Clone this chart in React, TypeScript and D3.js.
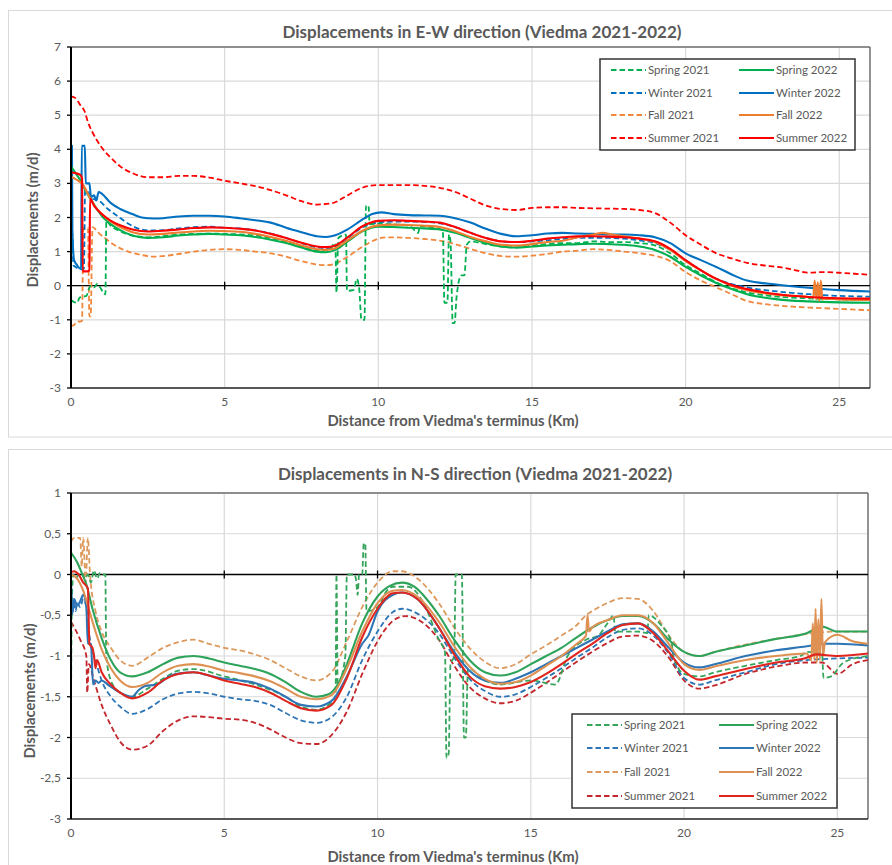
import React, { useEffect, useRef } from 'react';
import * as d3 from 'd3';

type Pt = [number, number];

// ---- E-W displacements (m/d) vs distance (km) ----
const ewSpring21: Pt[] = [[0,-0.42],[0.1,-0.48],[0.2,-0.5],[0.28,-0.35],[0.4,-0.32],[0.5,-0.3],[0.58,-0.1],[0.65,0.0],[0.75,-0.05],[0.85,0.05],[0.95,-0.05],[1.05,-0.2],[1.12,-0.25],[1.15,1.9],[1.3,1.75],[1.6,1.6],[2,1.47],[2.5,1.42],[3,1.45],[3.5,1.5],[4,1.52],[4.5,1.53],[5,1.52],[6,1.47],[7,1.28],[7.5,1.15],[8,1.03],[8.4,1.05],[8.6,1.25],[8.64,-0.2],[8.7,1.4],[8.95,1.5],[8.98,-0.15],[9.2,-0.12],[9.3,0.2],[9.38,-0.1],[9.45,-1.0],[9.55,-1.0],[9.6,2.35],[9.68,2.35],[9.72,1.8],[10,1.82],[10.5,1.8],[11,1.76],[11.3,1.55],[11.35,1.75],[11.8,1.7],[12.1,1.63],[12.15,-0.5],[12.25,-0.5],[12.3,1.5],[12.35,1.3],[12.42,-1.1],[12.48,-1.1],[12.55,-0.3],[12.7,0.3],[12.8,0.3],[12.88,1.2],[13,1.3],[13.5,1.22],[14,1.15],[14.5,1.12],[15,1.18],[15.5,1.22],[16,1.25],[16.5,1.25],[17,1.3],[17.5,1.28],[18,1.28],[18.5,1.25],[19,1.18],[19.5,0.95],[20,0.6],[20.5,0.35],[21,0.1],[22,-0.2],[23,-0.32],[24,-0.37],[25,-0.4],[26,-0.42]];
const ewSpring22: Pt[] = [[0,3.5],[0.15,3.3],[0.3,3.1],[0.5,2.75],[0.7,2.45],[1,2.05],[1.5,1.68],[2,1.47],[2.5,1.4],[3,1.42],[3.5,1.47],[4,1.5],[4.5,1.52],[5,1.5],[5.5,1.48],[6,1.43],[6.5,1.35],[7,1.25],[7.5,1.12],[8,1.0],[8.3,0.98],[8.6,1.05],[9,1.3],[9.5,1.6],[10,1.73],[10.5,1.72],[11,1.7],[11.5,1.68],[12,1.65],[12.5,1.55],[13,1.4],[13.5,1.25],[14,1.15],[14.5,1.12],[15,1.15],[15.5,1.18],[16,1.2],[16.5,1.22],[17,1.23],[17.5,1.22],[18,1.2],[18.5,1.15],[19,1.05],[19.5,0.85],[20,0.55],[20.5,0.3],[21,0.08],[21.5,-0.1],[22,-0.25],[23,-0.4],[24,-0.46],[25,-0.49],[26,-0.5]];
const ewWinter21: Pt[] = [[0,1.6],[0.04,1.55],[0.08,0.6],[0.15,0.55],[0.25,0.5],[0.36,0.48],[0.42,0.5],[0.46,2.8],[0.55,2.75],[0.7,2.55],[0.9,2.5],[1.2,2.25],[1.5,2.05],[2,1.75],[2.5,1.62],[3,1.63],[3.5,1.68],[4,1.72],[4.5,1.73],[5,1.7],[5.5,1.68],[6,1.62],[6.5,1.53],[7,1.4],[7.5,1.25],[8,1.12],[8.3,1.1],[8.6,1.15],[9,1.4],[9.5,1.72],[10,1.85],[10.5,1.88],[11,1.88],[11.5,1.87],[12,1.83],[12.5,1.72],[13,1.55],[13.5,1.4],[14,1.3],[14.5,1.28],[15,1.3],[15.5,1.33],[16,1.37],[16.5,1.4],[17,1.4],[17.5,1.4],[18,1.38],[18.5,1.33],[19,1.25],[19.5,1.05],[20,0.75],[20.5,0.45],[21,0.2],[21.5,0.05],[22,-0.05],[23,-0.17],[24,-0.25],[25,-0.3],[26,-0.32]];
const ewWinter22: Pt[] = [[0,3.5],[0.02,4.1],[0.03,4.1],[0.045,1.6],[0.1,0.75],[0.2,0.6],[0.3,0.5],[0.33,0.55],[0.35,4.1],[0.45,4.1],[0.48,3.0],[0.6,3.0],[0.65,2.6],[0.75,2.65],[0.82,2.5],[0.9,2.75],[1.0,2.7],[1.3,2.42],[1.6,2.25],[2,2.1],[2.3,2.0],[2.7,1.97],[3,1.98],[3.5,2.03],[4,2.05],[4.5,2.05],[5,2.03],[5.5,1.98],[6,1.92],[6.5,1.85],[7,1.7],[7.5,1.57],[8,1.45],[8.3,1.43],[8.6,1.48],[9,1.65],[9.5,1.95],[9.8,2.1],[10.1,2.15],[10.5,2.1],[11,2.07],[11.5,2.06],[12,2.05],[12.5,1.98],[13,1.85],[13.5,1.67],[14,1.52],[14.5,1.45],[15,1.48],[15.5,1.53],[16,1.55],[16.5,1.53],[17,1.52],[17.5,1.5],[18,1.5],[18.5,1.48],[19,1.42],[19.5,1.25],[20,0.95],[20.5,0.75],[21,0.55],[21.5,0.33],[22,0.15],[23,0.03],[24,-0.06],[25,-0.13],[26,-0.17]];
const ewFall21: Pt[] = [[0,-1.18],[0.1,-1.15],[0.2,-1.05],[0.3,-1.05],[0.36,-1.03],[0.4,1.7],[0.55,1.7],[0.6,-0.9],[0.64,-0.9],[0.7,1.72],[0.8,1.65],[0.9,1.55],[1.1,1.4],[1.4,1.2],[1.8,1.02],[2.3,0.9],[2.7,0.85],[3,0.87],[3.5,0.93],[4,1.0],[4.5,1.05],[5,1.07],[5.5,1.05],[6,1.0],[6.5,0.95],[7,0.85],[7.5,0.72],[8,0.62],[8.3,0.6],[8.6,0.65],[9,0.85],[9.5,1.15],[10,1.38],[10.3,1.42],[11,1.4],[11.5,1.37],[12,1.32],[12.5,1.22],[13,1.08],[13.5,0.95],[14,0.87],[14.5,0.85],[15,0.88],[15.5,0.93],[16,1.0],[16.5,1.03],[17,1.07],[17.5,1.05],[18,1.0],[18.5,0.95],[19,0.88],[19.5,0.72],[20,0.4],[20.5,0.15],[21,-0.05],[21.5,-0.25],[22,-0.45],[22.5,-0.53],[23,-0.58],[24,-0.64],[25,-0.68],[26,-0.72]];
const ewFall22: Pt[] = [[0,3.2],[0.2,3.1],[0.4,2.95],[0.6,2.6],[0.8,2.3],[1,2.1],[1.3,1.88],[1.6,1.72],[2,1.57],[2.5,1.5],[3,1.52],[3.5,1.56],[4,1.59],[4.5,1.61],[5,1.6],[5.5,1.58],[6,1.52],[6.5,1.43],[7,1.32],[7.5,1.18],[8,1.07],[8.3,1.05],[8.6,1.1],[9,1.33],[9.5,1.62],[10,1.77],[10.5,1.79],[11,1.78],[11.5,1.76],[12,1.72],[12.5,1.6],[13,1.43],[13.5,1.3],[14,1.2],[14.5,1.18],[15,1.22],[15.5,1.28],[16,1.32],[16.5,1.42],[17,1.5],[17.3,1.55],[17.6,1.5],[18,1.45],[18.5,1.38],[19,1.28],[19.5,1.05],[20,0.72],[20.5,0.45],[21,0.2],[21.5,0.0],[22,-0.13],[23,-0.27],[24,-0.33],[24.15,-0.35],[24.2,0.15],[24.25,-0.4],[24.3,0.1],[24.35,-0.45],[24.4,0.15],[24.45,-0.4],[24.5,-0.38],[25,-0.4],[26,-0.42]];
const ewSummer21: Pt[] = [[0,5.55],[0.15,5.5],[0.3,5.3],[0.45,5.1],[0.55,4.8],[0.7,4.5],[1,4.05],[1.3,3.75],[1.6,3.5],[2,3.3],[2.5,3.18],[3,3.18],[3.5,3.22],[4,3.22],[4.5,3.17],[5,3.08],[5.5,3.0],[6,2.92],[6.5,2.8],[7,2.65],[7.5,2.48],[8,2.38],[8.5,2.42],[9,2.65],[9.5,2.88],[10,2.95],[10.5,2.95],[11,2.95],[11.5,2.93],[12,2.87],[12.5,2.75],[13,2.55],[13.5,2.35],[14,2.25],[14.5,2.22],[15,2.28],[15.5,2.3],[16,2.3],[16.5,2.28],[17,2.27],[17.5,2.26],[18,2.25],[18.5,2.22],[19,2.13],[19.5,1.85],[20,1.48],[20.5,1.2],[21,0.95],[21.5,0.8],[22,0.67],[22.5,0.6],[23,0.55],[23.5,0.47],[24,0.38],[24.5,0.4],[25,0.38],[25.5,0.35],[26,0.32]];
const ewSummer22: Pt[] = [[0,3.32],[0.15,3.3],[0.3,3.25],[0.36,3.15],[0.38,0.42],[0.5,0.42],[0.6,0.45],[0.62,2.55],[0.75,2.35],[1,2.1],[1.3,1.9],[1.6,1.77],[2,1.65],[2.5,1.59],[3,1.61],[3.5,1.65],[4,1.69],[4.5,1.71],[5,1.7],[5.5,1.67],[6,1.62],[6.5,1.52],[7,1.4],[7.5,1.26],[8,1.15],[8.3,1.13],[8.6,1.18],[9,1.42],[9.5,1.75],[10,1.9],[10.5,1.92],[11,1.9],[11.5,1.88],[12,1.85],[12.5,1.72],[13,1.55],[13.5,1.4],[14,1.3],[14.5,1.28],[15,1.32],[15.5,1.38],[16,1.42],[16.5,1.45],[17,1.45],[17.5,1.44],[18,1.42],[18.5,1.38],[19,1.3],[19.5,1.08],[20,0.75],[20.5,0.45],[21,0.2],[21.5,0.02],[22,-0.1],[23,-0.25],[24,-0.33],[25,-0.37],[26,-0.38]];

// ---- N-S displacements (m/d) vs distance (km) ----
const nsSpring21: Pt[] = [[0,-1.6],[0.03,-0.3],[0.08,0.0],[0.15,-0.05],[0.25,0.0],[0.35,0.02],[0.45,-0.05],[0.55,0.0],[0.65,-0.1],[0.75,0.05],[0.85,-0.05],[0.95,0.02],[1.05,0.0],[1.12,0.0],[1.15,-1.0],[1.3,-1.3],[1.6,-1.45],[2,-1.5],[2.5,-1.4],[3,-1.28],[3.5,-1.18],[4,-1.16],[5,-1.25],[6,-1.35],[7,-1.5],[7.5,-1.62],[8,-1.66],[8.4,-1.6],[8.63,-1.5],[8.66,0.0],[8.7,-1.35],[8.95,-1.0],[9.0,0.0],[9.25,0.0],[9.3,-0.07],[9.35,-0.25],[9.4,0.0],[9.5,0.0],[9.55,0.38],[9.6,0.38],[9.64,-0.45],[10,-0.4],[10.3,-0.2],[10.5,-0.15],[11,-0.15],[11.5,-0.35],[12,-0.8],[12.2,-0.95],[12.25,-2.25],[12.32,-2.2],[12.38,-1.1],[12.5,-1.0],[12.55,0.0],[12.75,0.0],[12.82,-2.0],[12.88,-2.0],[12.95,-1.15],[13.5,-1.3],[14,-1.35],[15,-1.3],[15.8,-1.35],[16.2,-1.0],[16.8,-0.8],[17.2,-0.75],[17.5,-0.6],[17.7,-0.5],[17.75,-0.7],[18.5,-0.7],[18.8,-0.72],[18.85,-0.5],[19.2,-0.6],[19.6,-0.85],[19.65,-1.0],[20,-1.22],[20.5,-1.25],[21,-1.2],[22,-1.12],[23,-1.05],[23.8,-1.0],[24.0,-0.95],[24.5,-0.97],[24.55,-1.27],[24.8,-1.25],[25.2,-1.08],[26,-1.0]];
const nsSpring22: Pt[] = [[0,0.27],[0.2,0.15],[0.35,0.02],[0.5,-0.12],[0.7,-0.42],[1,-0.78],[1.3,-1.05],[1.6,-1.2],[2,-1.25],[2.5,-1.2],[3,-1.1],[3.5,-1.02],[4,-1.0],[4.5,-1.03],[5,-1.08],[5.5,-1.12],[6,-1.16],[6.5,-1.22],[7,-1.32],[7.5,-1.44],[8,-1.5],[8.4,-1.47],[8.7,-1.35],[9,-1.1],[9.5,-0.6],[10,-0.27],[10.4,-0.14],[10.8,-0.1],[11.2,-0.15],[11.6,-0.3],[12,-0.5],[12.5,-0.8],[13,-1.05],[13.5,-1.2],[14,-1.24],[14.5,-1.2],[15,-1.1],[15.5,-1.0],[16,-0.9],[16.5,-0.77],[17,-0.65],[17.5,-0.56],[18,-0.51],[18.5,-0.51],[19,-0.6],[19.5,-0.8],[20,-0.95],[20.5,-1.0],[21,-0.95],[22,-0.87],[23,-0.79],[24,-0.72],[24.5,-0.64],[25,-0.7],[26,-0.7]];
const nsWinter21: Pt[] = [[0,-0.12],[0.05,-0.5],[0.1,-0.3],[0.15,-0.45],[0.2,-0.35],[0.3,-0.4],[0.4,-0.3],[0.5,-0.4],[0.6,-0.75],[0.8,-1.05],[1,-1.3],[1.3,-1.5],[1.6,-1.62],[2,-1.71],[2.5,-1.65],[3,-1.53],[3.5,-1.46],[4,-1.44],[4.5,-1.46],[5,-1.5],[5.5,-1.53],[6,-1.55],[6.5,-1.6],[7,-1.7],[7.5,-1.79],[8,-1.82],[8.5,-1.75],[9,-1.5],[9.5,-1.05],[10,-0.7],[10.5,-0.46],[10.8,-0.42],[11.3,-0.48],[12,-0.72],[12.5,-1.02],[13,-1.28],[13.5,-1.43],[14,-1.5],[14.5,-1.47],[15,-1.38],[15.5,-1.27],[16,-1.15],[16.5,-1.02],[17,-0.9],[17.5,-0.77],[18,-0.68],[18.5,-0.66],[19,-0.75],[19.5,-0.97],[20,-1.27],[20.5,-1.35],[21,-1.3],[22,-1.2],[23,-1.1],[24,-1.05],[25,-1.03],[26,-1.02]];
const nsWinter22: Pt[] = [[0,-0.1],[0.05,-0.45],[0.1,-0.3],[0.2,-0.38],[0.3,-0.33],[0.4,-0.25],[0.5,-0.4],[0.55,-0.85],[0.65,-0.85],[0.72,-1.35],[0.8,-1.3],[0.9,-1.33],[1.0,-1.3],[1.2,-1.35],[1.6,-1.45],[2,-1.5],[2.2,-1.42],[2.4,-1.37],[2.8,-1.35],[3.2,-1.25],[3.6,-1.21],[4,-1.2],[4.5,-1.24],[5,-1.28],[5.5,-1.3],[6,-1.33],[6.5,-1.4],[7,-1.5],[7.5,-1.6],[8,-1.62],[8.5,-1.55],[9,-1.25],[9.5,-0.85],[9.7,-0.75],[10,-0.45],[10.5,-0.25],[10.8,-0.22],[11.3,-0.3],[12,-0.65],[12.5,-0.95],[13,-1.18],[13.5,-1.3],[14,-1.33],[14.5,-1.28],[15,-1.2],[15.5,-1.1],[16,-1.0],[16.5,-0.9],[17,-0.8],[17.5,-0.7],[18,-0.61],[18.5,-0.6],[19,-0.7],[19.5,-0.9],[20,-1.08],[20.5,-1.14],[21,-1.1],[22,-1.0],[23,-0.93],[24,-0.88],[24.5,-0.85],[25,-0.85],[26,-0.87]];
const nsFall21: Pt[] = [[0,0.4],[0.1,0.45],[0.3,0.45],[0.35,0.1],[0.4,0.45],[0.48,-0.1],[0.55,0.45],[0.62,0.0],[0.8,-0.45],[1,-0.7],[1.3,-0.9],[1.6,-1.05],[2,-1.12],[2.5,-1.02],[3,-0.9],[3.5,-0.83],[4,-0.8],[4.5,-0.85],[5,-0.9],[5.5,-0.93],[6,-0.98],[6.5,-1.05],[7,-1.15],[7.5,-1.25],[8,-1.3],[8.5,-1.2],[9,-0.82],[9.5,-0.4],[10,-0.1],[10.5,0.04],[10.8,0.04],[11.3,-0.05],[12,-0.35],[12.5,-0.65],[13,-0.9],[13.5,-1.07],[14,-1.15],[14.5,-1.1],[15,-0.98],[15.5,-0.87],[16,-0.75],[16.5,-0.62],[16.8,-0.5],[17,-0.45],[17.5,-0.35],[18,-0.29],[18.5,-0.3],[19,-0.45],[19.5,-0.75],[20,-0.95],[20.5,-1.0],[21,-0.95],[22,-0.86],[23,-0.79],[24,-0.73],[25,-0.7],[26,-0.7]];
const nsFall22: Pt[] = [[0,0.0],[0.2,-0.05],[0.4,-0.2],[0.6,-0.45],[0.8,-0.7],[1,-0.92],[1.3,-1.15],[1.6,-1.3],[2,-1.38],[2.5,-1.33],[3,-1.2],[3.5,-1.12],[4,-1.1],[4.5,-1.13],[5,-1.18],[5.5,-1.21],[6,-1.25],[6.5,-1.31],[7,-1.4],[7.5,-1.5],[8,-1.53],[8.5,-1.48],[9,-1.15],[9.5,-0.7],[10,-0.35],[10.5,-0.2],[10.8,-0.19],[11.3,-0.27],[12,-0.58],[12.5,-0.88],[13,-1.13],[13.5,-1.28],[14,-1.34],[14.5,-1.32],[15,-1.24],[15.5,-1.12],[16,-1.0],[16.5,-0.85],[16.8,-0.75],[16.85,-0.5],[16.9,-0.7],[17,-0.65],[17.5,-0.56],[18,-0.5],[18.5,-0.5],[19,-0.6],[19.5,-0.85],[20,-1.1],[20.5,-1.17],[21,-1.13],[22,-1.05],[23,-1.0],[24,-0.97],[24.15,-1.05],[24.2,-0.6],[24.25,-1.05],[24.29,-0.42],[24.33,-1.08],[24.38,-0.55],[24.43,-1.05],[24.48,-0.3],[24.53,-1.0],[24.6,-0.83],[25,-0.74],[25.5,-0.82],[26,-0.85]];
const nsSummer21: Pt[] = [[0,-0.58],[0.3,-0.8],[0.5,-1.0],[0.53,-1.45],[0.58,-1.1],[0.75,-1.3],[1,-1.6],[1.3,-1.85],[1.6,-2.05],[2,-2.15],[2.5,-2.1],[3,-1.92],[3.5,-1.79],[4,-1.74],[4.5,-1.75],[5,-1.77],[5.5,-1.78],[6,-1.82],[6.5,-1.9],[7,-2.0],[7.5,-2.07],[8,-2.08],[8.5,-1.97],[9,-1.68],[9.5,-1.22],[10,-0.82],[10.5,-0.57],[10.9,-0.51],[11.3,-0.55],[12,-0.8],[12.5,-1.12],[13,-1.38],[13.5,-1.52],[14,-1.58],[14.5,-1.55],[15,-1.45],[15.5,-1.33],[16,-1.2],[16.5,-1.07],[17,-0.95],[17.5,-0.84],[18,-0.76],[18.5,-0.75],[19,-0.82],[19.5,-1.02],[20,-1.3],[20.5,-1.4],[21,-1.36],[22,-1.22],[23,-1.13],[24,-1.08],[24.5,-1.08],[25,-1.22],[25.5,-1.1],[26,-1.05]];
const nsSummer22: Pt[] = [[0,0.03],[0.1,0.04],[0.25,0.0],[0.4,-0.1],[0.55,-0.17],[0.6,-0.85],[0.7,-0.9],[0.75,-1.0],[0.8,-1.15],[0.85,-1.05],[1,-1.2],[1.3,-1.35],[1.6,-1.45],[2,-1.52],[2.5,-1.45],[3,-1.3],[3.5,-1.22],[4,-1.2],[4.5,-1.24],[5,-1.3],[5.5,-1.34],[6,-1.38],[6.5,-1.45],[7,-1.55],[7.5,-1.64],[8,-1.67],[8.5,-1.6],[9,-1.27],[9.5,-0.77],[10,-0.42],[10.5,-0.23],[10.8,-0.22],[11.3,-0.3],[12,-0.65],[12.5,-0.98],[13,-1.25],[13.5,-1.37],[14,-1.4],[14.5,-1.38],[15,-1.32],[15.5,-1.22],[16,-1.1],[16.5,-0.97],[17,-0.85],[17.5,-0.72],[18,-0.62],[18.5,-0.6],[19,-0.72],[19.5,-0.95],[20,-1.18],[20.5,-1.29],[21,-1.25],[22,-1.16],[23,-1.08],[24,-1.02],[24.3,-0.98],[25,-1.0],[26,-0.97]];

const seriesNames = ['Spring 2021', 'Spring 2022', 'Winter 2021', 'Winter 2022', 'Fall 2021', 'Fall 2022', 'Summer 2021', 'Summer 2022'];
const xTicks = [0, 5, 10, 15, 20, 25];
const ewYTicks = [-3, -2, -1, 0, 1, 2, 3, 4, 5, 6, 7];
const nsYTicks = [-3, -2.5, -2, -1.5, -1, -0.5, 0, 0.5, 1];

const FONT = "Lato, 'Open Sans', sans-serif";

type Panel = {
  id: string;
  top: number; bottom: number; left: number; right: number;
  yDomain: [number, number];
  yTicks: number[];
  fmt: (v: number) => string;
  title: string; titleX: number; titleY: number;
  frame: [number, number, number, number];
  yLabelX: number; yLabelY: number; xTickY: number; xLabelY: number; xLabelX: number;
  legend: { x: number; y: number; w: number; h: number; rows: number[]; c1: number; c2: number };
  series: { data: Pt[]; color: string; dash: boolean }[];
};

function drawPanel(svg: any, p: Panel) {
  const x = d3.scaleLinear().domain([0, 26]).range([p.left, p.right]);
  const y = d3.scaleLinear().domain(p.yDomain).range([p.bottom, p.top]);
  const g = svg.append('g');

  g.append('rect').attr('x', p.frame[0]).attr('y', p.frame[1]).attr('width', p.frame[2]).attr('height', p.frame[3])
    .attr('fill', 'white').attr('stroke', '#d9d9d9');

  // grid
  g.selectAll('.hg').data(p.yTicks).enter().append('line')
    .attr('x1', p.left).attr('x2', p.right).attr('y1', (d: number) => y(d)).attr('y2', (d: number) => y(d))
    .attr('stroke', '#d9d9d9').attr('stroke-width', 1.2);
  g.selectAll('.vg').data(xTicks.slice(1)).enter().append('line')
    .attr('x1', (d: number) => x(d)).attr('x2', (d: number) => x(d)).attr('y1', p.top).attr('y2', p.bottom)
    .attr('stroke', '#d9d9d9').attr('stroke-width', 1.2);

  // plot frame
  g.append('line').attr('x1', p.left).attr('x2', p.right).attr('y1', p.top).attr('y2', p.top).attr('stroke', '#6f6f6f').attr('stroke-width', 1.5);
  g.append('line').attr('x1', p.right).attr('x2', p.right).attr('y1', p.top).attr('y2', p.bottom).attr('stroke', '#6f6f6f').attr('stroke-width', 1.5);
  g.append('line').attr('x1', p.left).attr('x2', p.right).attr('y1', p.bottom).attr('y2', p.bottom).attr('stroke', '#262626').attr('stroke-width', 1.5);

  // zero line with ticks
  const y0 = y(0);
  g.append('line').attr('x1', p.left).attr('x2', p.right).attr('y1', y0).attr('y2', y0).attr('stroke', '#000').attr('stroke-width', 1.3);
  g.selectAll('.zt').data(xTicks.slice(1)).enter().append('line')
    .attr('x1', (d: number) => x(d)).attr('x2', (d: number) => x(d)).attr('y1', y0 - 4).attr('y2', y0 + 4)
    .attr('stroke', '#000').attr('stroke-width', 1.3);

  // series
  const clipId = 'clip-' + p.id;
  svg.append('clipPath').attr('id', clipId).append('rect')
    .attr('x', p.left).attr('y', p.top).attr('width', p.right - p.left).attr('height', p.bottom - p.top);
  const line = d3.line<Pt>().x(d => x(d[0])).y(d => y(d[1])).curve(d3.curveMonotoneX);
  const lines = g.append('g').attr('clip-path', `url(#${clipId})`);
  const drawOrder = [6, 4, 2, 0, 3, 1, 5, 7];
  drawOrder.forEach(i => {
    const s = p.series[i];
    lines.append('path').attr('d', line(s.data)).attr('fill', 'none')
      .attr('stroke', s.color).attr('stroke-width', s.dash ? 1.8 : 2.1)
      .attr('stroke-dasharray', s.dash ? '5.5,3' : null)
      .attr('stroke-linejoin', 'round');
  });

  // y axis
  g.append('line').attr('x1', p.left).attr('x2', p.left).attr('y1', p.top).attr('y2', p.bottom).attr('stroke', '#000').attr('stroke-width', 2);
  g.selectAll('.yt').data(p.yTicks).enter().append('line')
    .attr('x1', p.left - 4).attr('x2', p.left).attr('y1', (d: number) => y(d)).attr('y2', (d: number) => y(d))
    .attr('stroke', '#000').attr('stroke-width', 1.3);
  g.selectAll('.yl').data(p.yTicks).enter().append('text')
    .attr('x', p.left - 10).attr('y', (d: number) => y(d) + 4).attr('text-anchor', 'end')
    .attr('font-family', FONT).attr('font-size', 12).attr('fill', '#595959').text((d: number) => p.fmt(d));
  g.selectAll('.xl').data(xTicks).enter().append('text')
    .attr('x', (d: number) => x(d)).attr('y', p.xTickY).attr('text-anchor', 'middle')
    .attr('font-family', FONT).attr('font-size', 12).attr('fill', '#595959').text((d: number) => String(d));

  // titles
  g.append('text').attr('x', p.titleX).attr('y', p.titleY).attr('text-anchor', 'middle')
    .attr('font-family', FONT).attr('font-weight', 'bold').attr('font-size', 17).attr('fill', '#595959').text(p.title);
  g.append('text').attr('x', p.xLabelX).attr('y', p.xLabelY).attr('text-anchor', 'middle')
    .attr('font-family', FONT).attr('font-weight', 'bold').attr('font-size', 14.8).attr('fill', '#595959')
    .text("Distance from Viedma's terminus (Km)");
  g.append('text').attr('transform', `translate(${p.yLabelX},${p.yLabelY}) rotate(-90)`).attr('text-anchor', 'middle')
    .attr('font-family', FONT).attr('font-weight', 'bold').attr('font-size', 14.8).attr('fill', '#595959')
    .text('Displacements (m/d)');

  // legend
  const L = p.legend;
  const lg = g.append('g');
  lg.append('rect').attr('x', L.x).attr('y', L.y).attr('width', L.w).attr('height', L.h)
    .attr('fill', 'white').attr('stroke', '#333').attr('stroke-width', 1.5);
  seriesNames.forEach((name, i) => {
    const row = Math.floor(i / 2);
    const cx = i % 2 === 0 ? L.c1 : L.c2;
    const ry = L.rows[row];
    const s = p.series[i];
    lg.append('line').attr('x1', cx).attr('x2', cx + 35).attr('y1', ry).attr('y2', ry)
      .attr('stroke', s.color).attr('stroke-width', s.dash ? 1.8 : 2.2)
      .attr('stroke-dasharray', s.dash ? '5.5,3' : null);
    lg.append('text').attr('x', cx + 37).attr('y', ry + 4).attr('font-family', FONT).attr('font-size', 11.5)
      .attr('fill', '#595959').text(name);
  });
}

const ewColors = ['#00b050', '#00b050', '#0070c0', '#0070c0', '#f0883e', '#ed7d31', '#ff0000', '#ff0000'];
const nsColors = ['#36a55c', '#2ea35a', '#2e75b6', '#2e75b6', '#dd9a5e', '#de9152', '#c3262c', '#e0251f'];

export default function App() {
  const ref = useRef<SVGSVGElement>(null);

  useEffect(() => {
    const svg = d3.select(ref.current);
    svg.selectAll('*').remove();

    const ewData = [ewSpring21, ewSpring22, ewWinter21, ewWinter22, ewFall21, ewFall22, ewSummer21, ewSummer22];
    const nsData = [nsSpring21, nsSpring22, nsWinter21, nsWinter22, nsFall21, nsFall22, nsSummer21, nsSummer22];

    drawPanel(svg, {
      id: 'ew', top: 47, bottom: 388, left: 71, right: 870,
      yDomain: [-3, 7], yTicks: ewYTicks, fmt: v => String(v),
      title: 'Displacements in E-W direction (Viedma 2021-2022)', titleX: 482, titleY: 38,
      frame: [8.5, 10.5, 900, 426.5],
      yLabelX: 38, yLabelY: 220, xTickY: 406, xLabelY: 426, xLabelX: 453,
      legend: { x: 600, y: 59, w: 255, h: 91, rows: [70, 93, 115, 138], c1: 611, c2: 739 },
      series: ewData.map((d, i) => ({ data: d, color: ewColors[i], dash: i % 2 === 0 })),
    });

    drawPanel(svg, {
      id: 'ns', top: 493, bottom: 819, left: 71, right: 868,
      yDomain: [-3, 1], yTicks: nsYTicks, fmt: v => String(v).replace('.', ','),
      title: 'Displacements in N-S direction (Viedma 2021-2022)', titleX: 475, titleY: 480,
      frame: [8.5, 449.5, 900, 430],
      yLabelX: 35, yLabelY: 691, xTickY: 837, xLabelY: 862, xLabelX: 453,
      legend: { x: 572, y: 714, w: 265, h: 94, rows: [725, 748, 772, 796], c1: 587, c2: 719 },
      series: nsData.map((d, i) => ({ data: d, color: nsColors[i], dash: i % 2 === 0 })),
    });
  }, []);

  return (
    <svg ref={ref} width={892} height={865}
      style={{ position: 'absolute', left: 0, top: 0, background: 'white' }} />
  );
}
